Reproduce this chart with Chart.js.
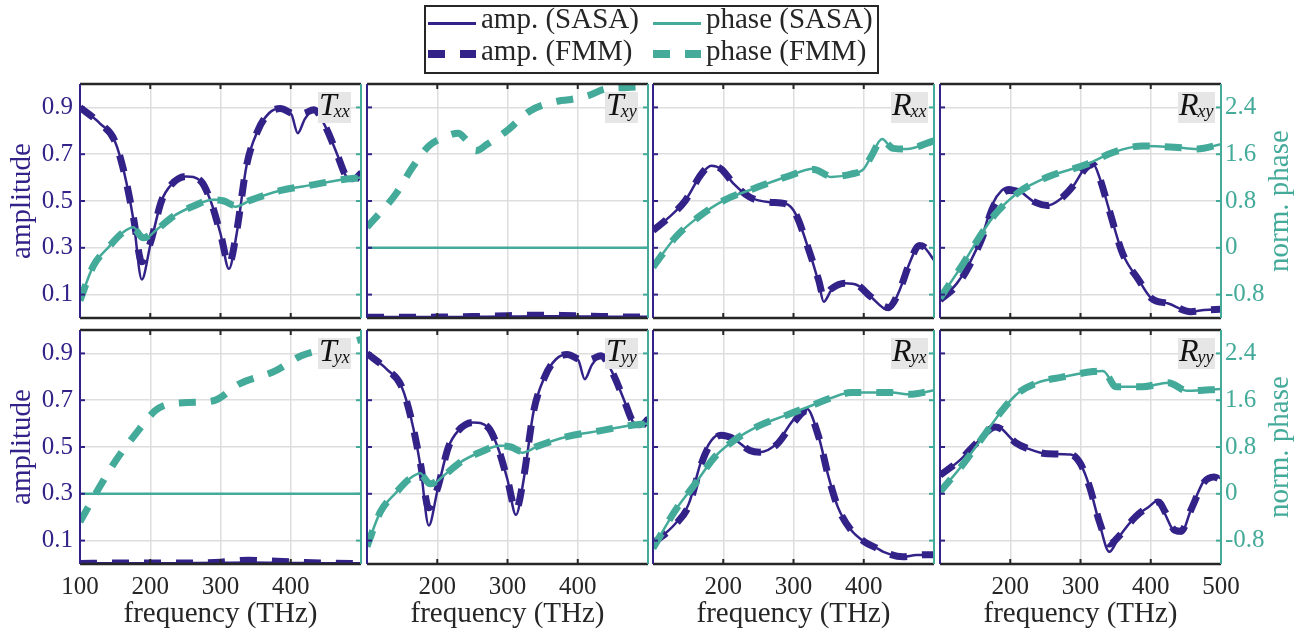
<!DOCTYPE html>
<html>
<head>
<meta charset="utf-8">
<script src="https://cdn.jsdelivr.net/npm/chart.js@4.4.1/dist/chart.umd.min.js"></script>
<style>
body { margin: 0; background: #fff; }
#fig { position: relative; width: 1305px; height: 635px; overflow: hidden;
  font-family: "Liberation Serif", "Times New Roman", serif; color: #262626; }
#fig canvas { position: absolute; left: 0; top: 0; }
.lbl { position: absolute; white-space: nowrap; font-size: 29px; line-height: 29px; }
.tag { position: absolute; background: #e6e6e6; height: 31px; line-height: 25px;
  padding: 0 1px; white-space: nowrap; color: #111; }
.tag i { font-size: 32px; }
.tag i.s { font-size: 18px; vertical-align: -2px; }
</style>
</head>
<body>
<div id="fig"></div>
<script>
// T_xx (T_yy shows the same curves)
const txxAmpFreq = [100, 129, 149, 163, 176, 188, 200, 216, 230, 251, 272, 286, 300, 312, 323, 337, 353, 369, 385, 401, 410, 420, 433, 449, 466, 478, 488, 500];
const txxAmpSASA = [0.90, 0.83, 0.76, 0.62, 0.42, 0.165, 0.31, 0.50, 0.57, 0.605, 0.585, 0.50, 0.36, 0.21, 0.36, 0.65, 0.80, 0.875, 0.895, 0.87, 0.79, 0.85, 0.89, 0.82, 0.70, 0.61, 0.585, 0.63];
const txxAmpFMM  = [0.90, 0.83, 0.76, 0.62, 0.43, 0.24, 0.32, 0.50, 0.57, 0.605, 0.585, 0.50, 0.36, 0.23, 0.37, 0.65, 0.80, 0.875, 0.895, 0.875, 0.865, 0.875, 0.89, 0.82, 0.70, 0.61, 0.585, 0.62];
const txxPhFreq = [100, 119, 142, 161, 176, 190, 209, 233, 261, 289, 305, 321, 344, 386, 433, 470, 500];
const txxPhSASA = [-0.90, -0.31, 0.03, 0.26, 0.35, 0.14, 0.31, 0.54, 0.71, 0.82, 0.82, 0.70, 0.82, 0.98, 1.08, 1.16, 1.20];
const txxPhFMM  = [-0.90, -0.31, 0.03, 0.26, 0.33, 0.17, 0.31, 0.54, 0.71, 0.82, 0.80, 0.72, 0.82, 0.98, 1.08, 1.16, 1.20];

// T_xy
const txyAmpFreq = [100, 150, 200, 250, 300, 340, 380, 420, 460, 500];
const txyAmpSASA = [0.004, 0.004, 0.004, 0.005, 0.006, 0.007, 0.007, 0.006, 0.005, 0.005];
const txyAmpFMM  = [0.003, 0.003, 0.004, 0.006, 0.010, 0.012, 0.011, 0.008, 0.005, 0.004];
const txyPhFreq = [100, 141, 165, 188, 212, 230, 240, 255, 271, 299, 332, 373, 387, 415, 438, 470, 500];
const txyPhSASA = [0, 0, 0, 0, 0, 0, 0, 0, 0, 0, 0, 0, 0, 0, 0, 0, 0];
const txyPhFMM  = [0.35, 0.92, 1.38, 1.74, 1.90, 1.96, 1.86, 1.66, 1.77, 2.00, 2.34, 2.51, 2.53, 2.60, 2.71, 2.74, 2.76];

// T_yx
const tyxAmpFreq = [100, 150, 200, 250, 300, 340, 380, 420, 460, 500];
const tyxAmpSASA = [0.003, 0.003, 0.003, 0.004, 0.005, 0.006, 0.005, 0.004, 0.003, 0.003];
const tyxAmpFMM  = [0.002, 0.004, 0.004, 0.004, 0.008, 0.016, 0.012, 0.006, 0.003, 0.002];
const tyxPhFreq = [100, 128, 151, 179, 207, 220, 253, 290, 327, 378, 415, 460, 500];
const tyxPhSASA = [0, 0, 0, 0, 0, 0, 0, 0, 0, 0, 0, 0, 0];
const tyxPhFMM  = [-0.48, 0.12, 0.57, 1.02, 1.42, 1.51, 1.56, 1.59, 1.88, 2.10, 2.36, 2.50, 2.64];

// R_xx
const rxxAmpFreq = [100, 123, 146, 169, 183, 197, 215, 238, 266, 289, 303, 322, 336, 343, 354, 373, 391, 410, 435, 451, 465, 479, 486, 500];
const rxxAmpSASA = [0.374, 0.431, 0.502, 0.616, 0.651, 0.637, 0.573, 0.516, 0.495, 0.488, 0.445, 0.289, 0.149, 0.069, 0.119, 0.148, 0.140, 0.091, 0.034, 0.119, 0.233, 0.310, 0.303, 0.247];
const rxxAmpFMM  = [0.374, 0.431, 0.502, 0.616, 0.651, 0.637, 0.573, 0.516, 0.495, 0.488, 0.445, 0.289, 0.160, 0.090, 0.125, 0.148, 0.140, 0.091, 0.045, 0.119, 0.233, 0.310, 0.303, 0.250];
const rxxPhFreq = [100, 132, 164, 201, 243, 289, 329, 354, 382, 400, 410, 426, 442, 461, 500];
const rxxPhSASA = [-0.33, 0.18, 0.52, 0.81, 1.01, 1.21, 1.35, 1.21, 1.26, 1.35, 1.55, 1.86, 1.69, 1.69, 1.83];
const rxxPhFMM  = [-0.33, 0.18, 0.52, 0.81, 1.01, 1.21, 1.34, 1.22, 1.26, 1.35, 1.55, 1.84, 1.70, 1.69, 1.83];

// R_xy
const rxyAmpFreq = [100, 124, 142, 161, 175, 188, 198, 212, 235, 253, 272, 290, 309, 318, 327, 341, 360, 383, 401, 425, 457, 476, 500];
const rxyAmpSASA = [0.077, 0.148, 0.233, 0.360, 0.488, 0.545, 0.559, 0.545, 0.495, 0.481, 0.510, 0.566, 0.651, 0.658, 0.601, 0.460, 0.275, 0.162, 0.084, 0.062, 0.027, 0.034, 0.037];
const rxyAmpFMM  = [0.077, 0.140, 0.225, 0.350, 0.470, 0.530, 0.545, 0.540, 0.495, 0.481, 0.510, 0.566, 0.645, 0.655, 0.601, 0.460, 0.275, 0.162, 0.084, 0.062, 0.027, 0.034, 0.037];
const rxyPhFreq = [100, 133, 156, 179, 212, 253, 309, 346, 388, 434, 466, 500];
const rxyPhSASA = [-0.86, -0.27, 0.18, 0.58, 0.95, 1.21, 1.43, 1.63, 1.74, 1.72, 1.69, 1.77];
const rxyPhFMM  = [-0.86, -0.27, 0.18, 0.58, 0.95, 1.21, 1.43, 1.63, 1.74, 1.72, 1.69, 1.77];

// R_yx
const ryxAmpFreq = [100, 132, 151, 169, 183, 197, 215, 238, 252, 276, 299, 319, 336, 350, 363, 382, 401, 419, 428, 456, 475, 500];
const ryxAmpSASA = [0.088, 0.173, 0.258, 0.443, 0.528, 0.556, 0.535, 0.485, 0.478, 0.514, 0.613, 0.663, 0.542, 0.371, 0.244, 0.145, 0.095, 0.067, 0.052, 0.031, 0.038, 0.038];
const ryxAmpFMM  = [0.088, 0.170, 0.250, 0.430, 0.520, 0.550, 0.535, 0.485, 0.478, 0.510, 0.600, 0.655, 0.542, 0.371, 0.244, 0.145, 0.095, 0.067, 0.052, 0.031, 0.038, 0.040];
const ryxPhFreq = [100, 132, 160, 188, 215, 252, 289, 326, 354, 382, 419, 440, 465, 500];
const ryxPhSASA = [-0.93, -0.28, 0.17, 0.63, 0.91, 1.17, 1.34, 1.51, 1.64, 1.73, 1.73, 1.73, 1.70, 1.77];
const ryxPhFMM  = [-0.93, -0.28, 0.17, 0.63, 0.91, 1.17, 1.34, 1.51, 1.64, 1.73, 1.73, 1.73, 1.70, 1.77];

// R_yy
const ryyAmpFreq = [100, 128, 151, 179, 188, 207, 226, 253, 286, 300, 313, 327, 341, 355, 378, 397, 411, 420, 434, 443, 457, 476, 490, 500];
const ryyAmpSASA = [0.379, 0.443, 0.514, 0.591, 0.577, 0.520, 0.492, 0.471, 0.468, 0.428, 0.329, 0.173, 0.052, 0.116, 0.201, 0.244, 0.272, 0.216, 0.137, 0.131, 0.230, 0.357, 0.379, 0.365];
const ryyAmpFMM  = [0.379, 0.443, 0.514, 0.585, 0.575, 0.520, 0.492, 0.471, 0.468, 0.428, 0.329, 0.180, 0.085, 0.120, 0.201, 0.244, 0.265, 0.225, 0.145, 0.140, 0.230, 0.350, 0.372, 0.360];
const ryyPhFreq = [100, 133, 161, 188, 212, 239, 272, 318, 332, 351, 388, 425, 452, 500];
const ryyPhSASA = [0.03, 0.51, 0.97, 1.42, 1.73, 1.90, 1.99, 2.09, 2.10, 1.83, 1.83, 1.90, 1.76, 1.79];
const ryyPhFMM  = [0.03, 0.51, 0.97, 1.42, 1.73, 1.90, 1.99, 2.09, 2.10, 1.83, 1.83, 1.90, 1.76, 1.79];

// axis ticks
const xTicksByCol = [[100, 200, 300, 400], [200, 300, 400], [200, 300, 400], [200, 300, 400, 500]];
const ampTicks = [0.1, 0.3, 0.5, 0.7, 0.9];
const phaseTicks = [-0.8, 0, 0.8, 1.6, 2.4];

const PURPLE = '#332288', TEAL = '#44aa99', INK = '#262626', GRID = '#dedede';
const FONT = '"Liberation Serif", "Times New Roman", serif';

// panel boxes in page pixels
const colLeft = [80, 367, 653, 940];
const colRight = [361, 648, 934, 1221];
const rowTop = [84, 330];
const rowBottom = [318, 564];
const AXW = 70, AXH = 50; // room kept for tick labels

const panels = [
	{sym: 'T', sub: 'xx', row: 0, col: 0, af: txxAmpFreq, aS: txxAmpSASA, aF: txxAmpFMM, pf: txxPhFreq, pS: txxPhSASA, pF: txxPhFMM},
	{sym: 'T', sub: 'xy', row: 0, col: 1, af: txyAmpFreq, aS: txyAmpSASA, aF: txyAmpFMM, pf: txyPhFreq, pS: txyPhSASA, pF: txyPhFMM},
	{sym: 'R', sub: 'xx', row: 0, col: 2, af: rxxAmpFreq, aS: rxxAmpSASA, aF: rxxAmpFMM, pf: rxxPhFreq, pS: rxxPhSASA, pF: rxxPhFMM},
	{sym: 'R', sub: 'xy', row: 0, col: 3, af: rxyAmpFreq, aS: rxyAmpSASA, aF: rxyAmpFMM, pf: rxyPhFreq, pS: rxyPhSASA, pF: rxyPhFMM},
	{sym: 'T', sub: 'yx', row: 1, col: 0, af: tyxAmpFreq, aS: tyxAmpSASA, aF: tyxAmpFMM, pf: tyxPhFreq, pS: tyxPhSASA, pF: tyxPhFMM},
	{sym: 'T', sub: 'yy', row: 1, col: 1, af: txxAmpFreq, aS: txxAmpSASA, aF: txxAmpFMM, pf: txxPhFreq, pS: txxPhSASA, pF: txxPhFMM},
	{sym: 'R', sub: 'yx', row: 1, col: 2, af: ryxAmpFreq, aS: ryxAmpSASA, aF: ryxAmpFMM, pf: ryxPhFreq, pS: ryxPhSASA, pF: ryxPhFMM},
	{sym: 'R', sub: 'yy', row: 1, col: 3, af: ryyAmpFreq, aS: ryyAmpSASA, aF: ryyAmpFMM, pf: ryyPhFreq, pS: ryyPhSASA, pF: ryyPhFMM}
];

const fig = document.getElementById('fig');
const pts = (xs, ys) => xs.map((x, i) => ({x: x, y: ys[i]}));

// borders and the short inward ticks, drawn over the curves
const frame = {
	id: 'frame',
	afterDraw(chart) {
		const {ctx, chartArea: a, scales} = chart;
		const seg = (x1, y1, x2, y2, c) => {
			ctx.strokeStyle = c;
			ctx.beginPath(); ctx.moveTo(x1, y1); ctx.lineTo(x2, y2); ctx.stroke();
		};
		ctx.save();
		ctx.lineWidth = 2;
		ampTicks.forEach(v => { const y = scales.yA.getPixelForValue(v); seg(a.left, y, a.left + 5, y, PURPLE); });
		phaseTicks.forEach(v => { const y = scales.yP.getPixelForValue(v); seg(a.right - 5, y, a.right, y, TEAL); });
		[200, 300, 400].forEach(v => {
			const x = scales.x.getPixelForValue(v);
			seg(x, a.bottom, x, a.bottom - 5, INK);
			seg(x, a.top, x, a.top + 5, INK);
		});
		ctx.lineWidth = 2.5;
		seg(a.left, a.top, a.right, a.top, INK);
		seg(a.left, a.bottom, a.right, a.bottom, INK);
		ctx.lineWidth = 2;
		seg(a.left, a.top, a.left, a.bottom, PURPLE);
		seg(a.right, a.top, a.right, a.bottom, TEAL);
		ctx.restore();
	}
};

panels.forEach(p => {
	const cv = document.createElement('canvas');
	cv.width = 1305; cv.height = 635;
	fig.appendChild(cv);
	const L = colLeft[p.col], R = colRight[p.col], T = rowTop[p.row], B = rowBottom[p.row];
	const tickFont = {family: FONT, size: 25};

	new Chart(cv, {
		type: 'line',
		data: {
			datasets: [
				{label: 'phase (SASA)', data: pts(p.pf, p.pS), yAxisID: 'yP', borderColor: TEAL, borderWidth: 2.5, order: 0},
				{label: 'phase (FMM)', data: pts(p.pf, p.pF), yAxisID: 'yP', borderColor: TEAL, borderWidth: 7, borderDash: [17, 15], order: 1},
				{label: 'amp. (SASA)', data: pts(p.af, p.aS), yAxisID: 'yA', borderColor: PURPLE, borderWidth: 2.5, order: 2},
				{label: 'amp. (FMM)', data: pts(p.af, p.aF), yAxisID: 'yA', borderColor: PURPLE, borderWidth: 7, borderDash: [17, 15], order: 3}
			]
		},
		options: {
			responsive: false,
			animation: false,
			events: [],
			layout: {padding: {left: L - AXW, top: T, right: 1305 - R - AXW, bottom: 635 - B - AXH}},
			elements: {
				point: {radius: 0},
				line: {cubicInterpolationMode: 'monotone', borderCapStyle: 'butt', fill: false}
			},
			plugins: {legend: {display: false}, tooltip: {enabled: false}},
			scales: {
				x: {
					type: 'linear', min: 100, max: 500,
					afterBuildTicks: s => { s.ticks = xTicksByCol[p.col].map(v => ({value: v})); },
					afterFit: s => { s.height = AXH; },
					border: {display: false},
					grid: {color: GRID, lineWidth: 1.5, drawTicks: false},
					ticks: {display: p.row === 1, font: tickFont, color: INK, padding: 8, maxRotation: 0, autoSkip: false, callback: v => String(v)}
				},
				yA: {
					type: 'linear', position: 'left', min: 0, max: 1,
					afterBuildTicks: s => { s.ticks = ampTicks.map(v => ({value: v})); },
					afterFit: s => { s.width = AXW; },
					border: {display: false},
					grid: {color: GRID, lineWidth: 1.5, drawTicks: false},
					ticks: {display: p.col === 0, font: tickFont, color: PURPLE, padding: 7, autoSkip: false, callback: v => String(v)}
				},
				yP: {
					type: 'linear', position: 'right', min: -1.2, max: 2.8,
					afterBuildTicks: s => { s.ticks = phaseTicks.map(v => ({value: v})); },
					afterFit: s => { s.width = AXW; },
					border: {display: false},
					grid: {display: false, drawTicks: false},
					ticks: {display: p.col === 3, font: tickFont, color: TEAL, padding: 4, autoSkip: false, callback: v => String(v)}
				}
			}
		},
		plugins: [frame]
	});

	// panel name, e.g. T_xx
	const tag = document.createElement('div');
	tag.className = 'tag';
	tag.style.left = (R - 43) + 'px';
	tag.style.top = (T + 8) + 'px';
	tag.innerHTML = '<i>' + p.sym + '</i><i class="s" style="margin-left:' + (p.sym === 'T' ? -3 : -1) + 'px">' + p.sub + '</i>';
	fig.appendChild(tag);
});

// axis titles
function addText(txt, x, y, color, rotate) {
	const d = document.createElement('div');
	d.className = 'lbl';
	d.textContent = txt;
	d.style.left = x + 'px';
	d.style.top = y + 'px';
	d.style.color = color;
	d.style.transform = 'translate(-50%, -50%)' + (rotate ? ' rotate(-90deg)' : '');
	fig.appendChild(d);
}
[0, 1].forEach(r => {
	const cy = (rowTop[r] + rowBottom[r]) / 2;
	addText('amplitude', 20, cy, PURPLE, true);
	addText('norm. phase', 1278, cy, TEAL, true);
});
[0, 1, 2, 3].forEach(c => addText('frequency (THz)', (colLeft[c] + colRight[c]) / 2, 612, INK, false));

// shared legend box
const legendItems = [
	{text: 'amp. (SASA)', color: PURPLE, dashed: false, x: 428, y: 0},
	{text: 'amp. (FMM)', color: PURPLE, dashed: true, x: 428, y: 1},
	{text: 'phase (SASA)', color: TEAL, dashed: false, x: 653, y: 0},
	{text: 'phase (FMM)', color: TEAL, dashed: true, x: 653, y: 1}
];
const box = document.createElement('div');
box.style.cssText = 'position:absolute;left:424px;top:5px;width:455px;height:69px;border:2px solid ' + INK + ';box-sizing:border-box;background:#fff';
fig.appendChild(box);
legendItems.forEach(it => {
	const s = document.createElement('div');
	s.style.position = 'absolute';
	s.style.left = it.x + 'px';
	s.style.width = '48px';
	if (it.dashed) {
		s.style.top = '50px';
		s.style.height = '8px';
		s.style.background = 'repeating-linear-gradient(to right, ' + it.color + ' 0 17px, transparent 17px 32px)';
	} else {
		s.style.top = '22px';
		s.style.height = '3px';
		s.style.background = it.color;
	}
	fig.appendChild(s);
	const t = document.createElement('div');
	t.className = 'lbl';
	t.textContent = it.text;
	t.style.left = (it.x + 53) + 'px';
	t.style.top = (it.y ? 36 : 4) + 'px';
	t.style.color = INK;
	fig.appendChild(t);
});
</script>
</body>
</html>
